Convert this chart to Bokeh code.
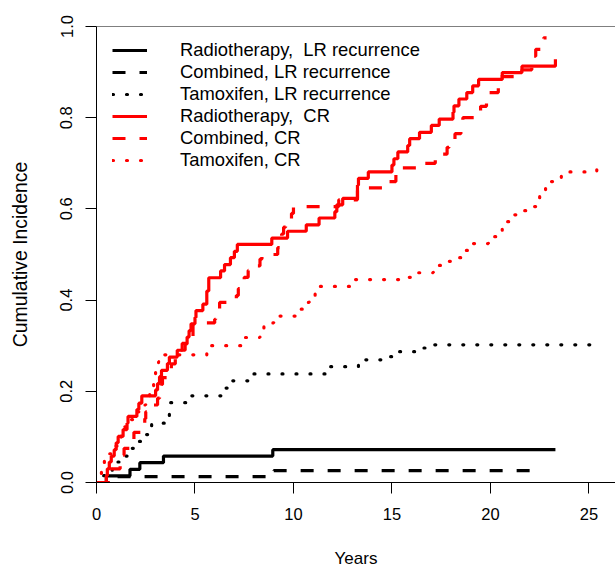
from bokeh.plotting import figure
from bokeh.models import Legend, LegendItem, FixedTicker, Span, PrintfTickFormatter, Range1d
from bokeh.embed import file_html
from bokeh.resources import INLINE

# ---- data ----
series_labels = [
    "Radiotherapy,  LR recurrence",
    "Combined, LR recurrence",
    "Tamoxifen, LR recurrence",
    "Radiotherapy,  CR",
    "Combined, CR",
    "Tamoxifen, CR",
]

rt_lr_t = [0, 0.5, 1.7, 2.2, 3.4, 8.95, 23.3]
rt_lr_v = [0, 0.0145, 0.029, 0.0435, 0.058, 0.072, 0.072]

comb_lr_t = [0, 1.0, 9.0, 22.7]
comb_lr_v = [0, 0.013, 0.026, 0.026]

tam_lr_t = [0, 0.3, 0.8, 1.0, 1.3, 1.6, 2.0, 2.4, 2.6, 2.8, 3.5, 3.7, 3.75, 4.6,
            6.4, 6.7, 7.8, 11.6, 13.3, 14.5, 15.0, 16.3, 16.8, 25.7]
tam_lr_v = [0, 0.015, 0.03, 0.045, 0.058, 0.075, 0.09, 0.105, 0.12, 0.13, 0.145, 0.16, 0.175, 0.19,
            0.207, 0.223, 0.238, 0.254, 0.269, 0.276, 0.287, 0.295, 0.302, 0.302]

rt_cr_t = [0, 0.5, 0.55, 0.65, 0.75, 0.9, 1.0, 1.1, 1.35, 1.55, 1.6, 2.05, 2.15, 2.3,
           3.0, 3.1, 3.2, 3.3, 3.6, 3.7, 4.1, 4.5, 4.6, 4.7, 4.8, 5.0, 5.05, 5.4, 5.6, 5.7,
           6.3, 6.5, 6.8, 7.0, 7.15, 8.9, 9.7, 10.65, 11.3, 12.1, 12.2, 12.5, 13.25, 13.3,
           13.8, 15.0, 15.1, 15.3, 15.8, 15.9, 16.4, 17.0, 17.4, 18.1, 18.15, 18.4, 18.8,
           19.1, 19.4, 20.6, 21.6, 23.3]
rt_cr_v = [0, 0.015, 0.03, 0.045, 0.058, 0.072, 0.087, 0.101, 0.116, 0.13, 0.145, 0.16, 0.174, 0.19,
           0.203, 0.217, 0.232, 0.246, 0.261, 0.275, 0.29, 0.304, 0.319, 0.333, 0.348, 0.362, 0.377, 0.391, 0.42, 0.449,
           0.464, 0.478, 0.493, 0.507, 0.522, 0.536, 0.551, 0.565, 0.58, 0.594, 0.609, 0.623, 0.652, 0.667,
           0.681, 0.696, 0.71, 0.725, 0.739, 0.754, 0.768, 0.783, 0.797, 0.812, 0.826, 0.841, 0.855,
           0.87, 0.884, 0.899, 0.913, 0.928]

comb_cr_t = [0, 0.6, 0.7, 1.2, 1.3, 1.4, 1.7, 1.9, 2.4, 2.45, 2.5, 2.8, 3.1, 3.2, 3.3, 3.35, 3.6,
             3.8, 4.0, 4.3, 4.35, 4.8, 4.9, 6.0, 6.05, 6.25, 7.1, 7.2, 7.3, 7.5, 7.7, 7.8, 8.3,
             8.4, 9.2, 9.3, 9.4, 9.5, 9.6, 9.9, 10.0, 12.3, 13.25, 14.5, 15.2, 15.3, 16.3, 17.2,
             17.8, 17.9, 18.2, 18.5, 18.6, 19.2, 19.5, 19.8, 19.9, 20.4, 20.5, 21.6, 22.1, 22.3,
             22.7, 22.85]
comb_cr_v = [0, 0.015, 0.03, 0.045, 0.06, 0.075, 0.09, 0.11, 0.125, 0.14, 0.155, 0.17, 0.185, 0.2, 0.215, 0.23, 0.245,
             0.26, 0.275, 0.29, 0.305, 0.32, 0.35, 0.358, 0.37, 0.395, 0.41, 0.425, 0.435, 0.45, 0.465, 0.475, 0.49,
             0.5, 0.515, 0.53, 0.545, 0.56, 0.575, 0.59, 0.605, 0.62, 0.646, 0.66, 0.675, 0.69, 0.70, 0.72,
             0.735, 0.75, 0.765, 0.78, 0.80, 0.815, 0.825, 0.84, 0.855, 0.875, 0.89, 0.905, 0.935, 0.95,
             0.975, 0.975]

tam_cr_t = [0, 0.1, 0.25, 0.4, 0.6, 0.9, 1.1, 1.25, 1.4, 1.7, 2.1, 2.3, 2.5, 2.7, 2.9, 3.0, 3.15,
            3.3, 5.6, 7.4, 8.3, 8.5, 9.0, 10.1, 10.5, 10.8, 11.1, 12.9, 15.5, 16.0, 17.1, 17.6,
            18.1, 18.5, 18.9, 19.9, 20.3, 20.6, 21.0, 21.4, 21.9, 22.3, 22.5, 22.8, 23.2, 23.6,
            25.4, 25.8]
tam_cr_v = [0, 0.015, 0.03, 0.048, 0.063, 0.08, 0.095, 0.11, 0.122, 0.138, 0.155, 0.17, 0.19, 0.21, 0.23, 0.25, 0.265,
            0.28, 0.30, 0.318, 0.335, 0.35, 0.365, 0.38, 0.395, 0.41, 0.43, 0.445, 0.45, 0.46, 0.476, 0.485,
            0.493, 0.509, 0.524, 0.539, 0.55, 0.572, 0.587, 0.596, 0.605, 0.618, 0.638, 0.66, 0.668, 0.681,
            0.692, 0.692]

x_ticks = [0, 5, 10, 15, 20, 25]
y_ticks = [0.0, 0.2, 0.4, 0.6, 0.8, 1.0]

FONT = "Liberation Sans"

p = figure(width=615, height=570, output_backend="svg", toolbar_location=None,
           x_range=Range1d(0, 26.35), y_range=Range1d(0, 1),
           min_border_left=96, min_border_top=26, min_border_bottom=86, min_border_right=0)
p.grid.visible = False
p.outline_line_color = None
p.background_fill_color = "white"
p.border_fill_color = "white"

for ax in (p.xaxis[0], p.yaxis[0]):
    ax.axis_line_color = "black"
    ax.major_tick_line_color = "black"
    ax.minor_tick_line_color = None
    ax.major_tick_in = 0
    ax.major_tick_out = 11
    ax.major_label_text_font = FONT
    ax.major_label_text_font_size = "16.5px"
    ax.major_label_text_color = "black"
    ax.axis_label_text_font = FONT
    ax.axis_label_text_font_style = "normal"
    ax.axis_label_text_color = "black"

p.xaxis.axis_label_text_font_size = "17px"
p.yaxis.axis_label_text_font_size = "19.4px"
p.xaxis.ticker = FixedTicker(ticks=x_ticks)
p.yaxis.ticker = FixedTicker(ticks=y_ticks)
p.yaxis.formatter = PrintfTickFormatter(format="%.1f")
p.yaxis.major_label_orientation = "vertical"
p.xaxis.major_label_standoff = 14
p.yaxis.major_label_standoff = 13
p.xaxis.axis_label = "Years"
p.yaxis.axis_label = "Cumulative Incidence"
p.xaxis.axis_label_standoff = 26
p.yaxis.axis_label_standoff = 27

p.add_layout(Span(location=1.0, dimension="width", line_color="black", line_width=1))

LW = 3.2
styles = [
    (rt_lr_t, rt_lr_v, "black", "solid", "butt"),
    (comb_lr_t, comb_lr_v, "black", "13 14", "butt"),
    (tam_lr_t, tam_lr_v, "black", "1 13", "round"),
    (rt_cr_t, rt_cr_v, "#FF0000", "solid", "butt"),
    (comb_cr_t, comb_cr_v, "#FF0000", "13 14", "butt"),
    (tam_cr_t, tam_cr_v, "#FF0000", "1 13", "round"),
]
items = []
for (t, v, col, dash, cap), lab in zip(styles, series_labels):
    r = p.step(x=t, y=v, mode="after", line_color=col, line_width=LW, line_dash=dash, line_cap=cap)
    items.append(LegendItem(label=lab, renderers=[r]))

legend = Legend(items=items, location=(16, 311), glyph_width=35, glyph_height=22, label_height=22,
                label_standoff=33, spacing=0, padding=0, margin=0, border_line_color=None,
                background_fill_alpha=0, label_text_font=FONT, label_text_font_size="18.4px",
                label_text_color="black")
p.add_layout(legend)

open("out.html", "w").write(file_html(p, INLINE))
